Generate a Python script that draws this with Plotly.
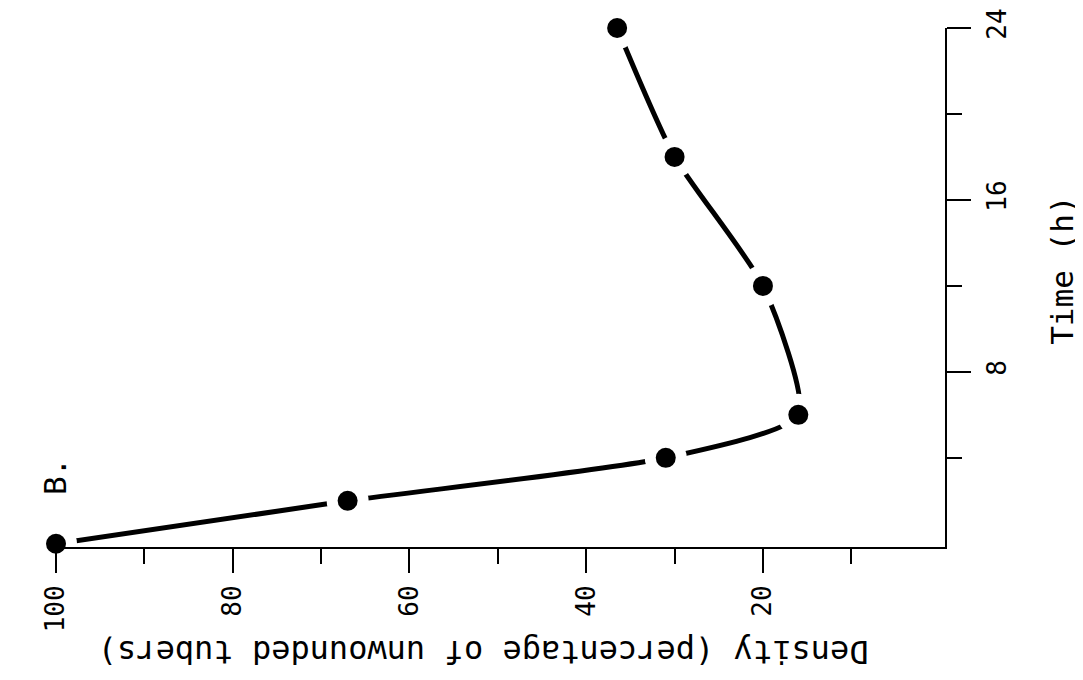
import plotly.graph_objects as go

# Data read from the (rotated) figure
time_h = [0, 2, 4, 6, 12, 18, 24]
density_pct = [100, 67, 31, 16, 20, 30, 36.5]

density_ticks = [100, 80, 60, 40, 20]
density_ticklabels = ["100", "80", "60", "40", "20"]
density_minor = [90, 70, 50, 30, 10]
time_ticks = [8, 16, 24]
time_ticklabels = ["8", "16", "24"]
time_minor = [4, 12, 20]

FONT = "DejaVu Sans Mono"

fig = go.Figure()

# smooth curve
fig.add_trace(go.Scatter(
    x=density_pct, y=time_h, mode="lines",
    line=dict(color="black", width=5, shape="spline", smoothing=0.6),
    hoverinfo="skip", showlegend=False,
))
# white halo that interrupts the curve around each point
fig.add_trace(go.Scatter(
    x=density_pct, y=time_h, mode="markers",
    marker=dict(color="white", size=42, line=dict(width=0)),
    cliponaxis=False, hoverinfo="skip", showlegend=False,
))
# solid dots
fig.add_trace(go.Scatter(
    x=density_pct, y=time_h, mode="markers",
    marker=dict(color="black", size=20, line=dict(width=0)),
    cliponaxis=False, showlegend=False,
))

fig.update_layout(
    width=1075, height=672,
    margin=dict(l=48, r=138, t=20, b=133, autoexpand=False),
    paper_bgcolor="white", plot_bgcolor="white",
    font=dict(family=FONT, color="black", size=26),
    xaxis=dict(
        range=[100, -0.6], showgrid=False, zeroline=False, automargin=False,
        showline=True, linecolor="black", linewidth=2,
        ticks="outside", ticklen=24, tickwidth=2, tickcolor="black",
        tickvals=density_ticks, ticktext=density_ticklabels,
        tickangle=-90, tickfont=dict(family=FONT, size=26, color="black"),
        ticklabelstandoff=2,
        minor=dict(ticks="outside", ticklen=15, tickwidth=2, tickcolor="black",
                   tickvals=density_minor),
        fixedrange=True,
    ),
    yaxis=dict(
        range=[-0.15, 24], side="right", showgrid=False, zeroline=False,
        automargin=False,
        showline=True, linecolor="black", linewidth=2,
        ticks="outside", ticklen=24, tickwidth=2, tickcolor="black",
        tickvals=time_ticks, ticktext=time_ticklabels,
        tickangle=-90, tickfont=dict(family=FONT, size=26, color="black"),
        ticklabelstandoff=4,
        minor=dict(ticks="outside", ticklen=15, tickwidth=2, tickcolor="black",
                   tickvals=time_minor),
        fixedrange=True,
    ),
    annotations=[
        dict(text="Density (percentage of unwounded tubers)", textangle=180,
             xref="paper", yref="paper", x=0.480, y=-0.202,
             xanchor="center", yanchor="middle", showarrow=False,
             font=dict(family=FONT, size=32, color="black")),
        dict(text="Time (h)", textangle=-90,
             xref="paper", yref="paper", x=1.1316, y=0.534,
             xanchor="center", yanchor="middle", showarrow=False,
             font=dict(family=FONT, size=31, color="black")),
        dict(text="B.", textangle=-90,
             xref="paper", yref="paper", x=-0.001, y=0.135,
             xanchor="center", yanchor="middle", showarrow=False,
             font=dict(family=FONT, size=31, color="black")),
    ],
)

fig.write_html("out.html")
